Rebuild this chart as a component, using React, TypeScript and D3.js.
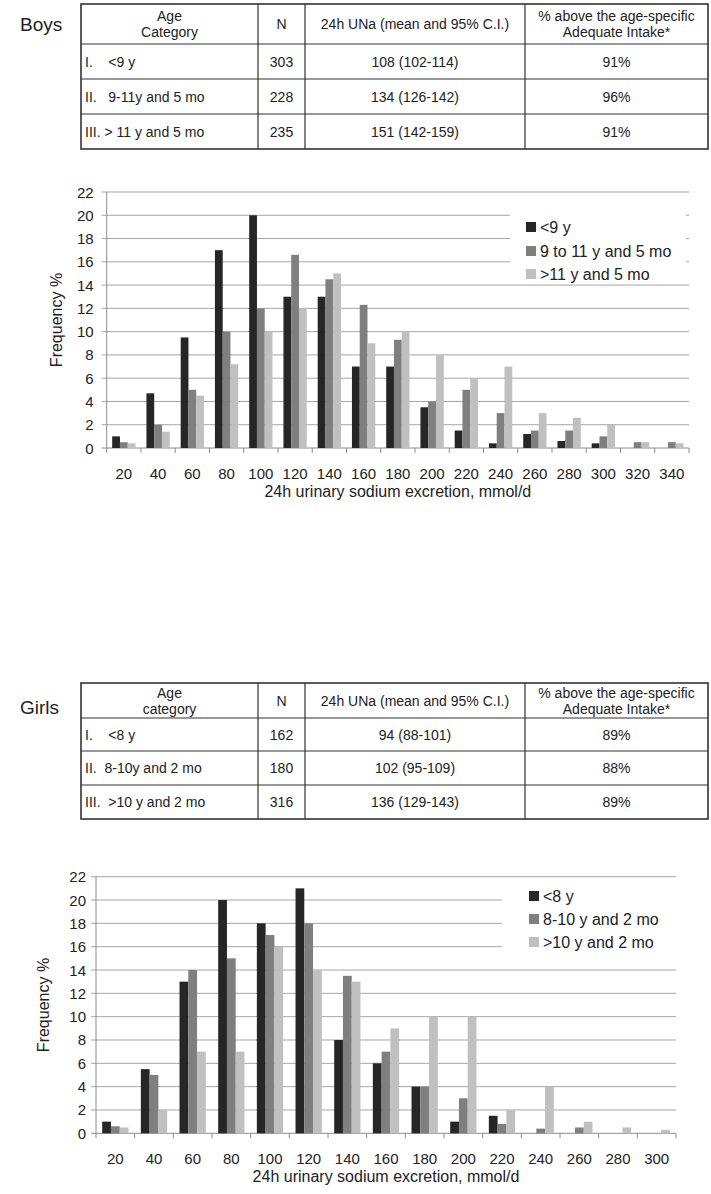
import React from "react";
import * as d3 from "d3";

// ---------- Data ----------
const boysCategories = [20, 40, 60, 80, 100, 120, 140, 160, 180, 200, 220, 240, 260, 280, 300, 320, 340];
const boysUnder9 = [1.0, 4.7, 9.5, 17, 20, 13, 13, 7, 7, 3.5, 1.5, 0.4, 1.2, 0.6, 0.4, 0, 0];
const boys9to11 = [0.5, 2.0, 5.0, 10, 12, 16.6, 14.5, 12.3, 9.3, 4.0, 5.0, 3.0, 1.5, 1.5, 1.0, 0.5, 0.5];
const boysOver11 = [0.4, 1.4, 4.5, 7.2, 10, 12, 15, 9, 10, 8, 6, 7, 3, 2.6, 2, 0.5, 0.4];
const boysSeriesNames = ["<9 y", "9 to 11 y and 5 mo", ">11 y and 5 mo"];

const girlsCategories = [20, 40, 60, 80, 100, 120, 140, 160, 180, 200, 220, 240, 260, 280, 300];
const girlsUnder8 = [1.0, 5.5, 13, 20, 18, 21, 8, 6, 4, 1, 1.5, 0, 0, 0, 0];
const girls8to10 = [0.6, 5, 14, 15, 17, 18, 13.5, 7, 4, 3, 0.8, 0.4, 0.5, 0, 0];
const girlsOver10 = [0.5, 2, 7, 7, 16, 14, 13, 9, 10, 10, 2, 4, 1, 0.5, 0.3];
const girlsSeriesNames = ["<8 y", "8-10 y and 2 mo", ">10 y and 2 mo"];

const yTicks = [0, 2, 4, 6, 8, 10, 12, 14, 16, 18, 20, 22];

const tableHeaders = ["N", "24h UNa (mean and 95% C.I.)"];
const boysAgeHeader = ["Age", "Category"];
const girlsAgeHeader = ["Age", "category"];
const pctHeader = ["% above the age-specific", "Adequate Intake*"];

const boysAgeCats = ["I.    <9 y", "II.   9-11y and 5 mo", "III. > 11 y and 5 mo"];
const boysN = ["303", "228", "235"];
const boysUNa = ["108 (102-114)", "134 (126-142)", "151 (142-159)"];
const boysPct = ["91%", "96%", "91%"];

const girlsAgeCats = ["I.    <8 y", "II.  8-10y and 2 mo", "III.  >10 y and 2 mo"];
const girlsN = ["162", "180", "316"];
const girlsUNa = ["94 (88-101)", "102 (95-109)", "136 (129-143)"];
const girlsPct = ["89%", "88%", "89%"];

const COLORS = ["#262626", "#7f7f7f", "#c0c0c0"];
const FONT = "'Liberation Sans', Arial, Helvetica, sans-serif";

// ---------- Table ----------
function Table(props: {
  top: number; rowLines: number[]; title: string; titleY: number;
  ageHeader: string[]; ages: string[]; n: string[]; una: string[]; pct: string[];
}) {
  const { top, rowLines, title, titleY, ageHeader, ages, n, una, pct } = props;
  const left = 81, right = 708;
  const cols = [left, 258, 305, 525, right];
  const bottom = rowLines[rowLines.length - 1];
  const headerBottom = rowLines[0];
  const fs = 14;
  const rowsTop = [headerBottom, rowLines[1], rowLines[2]];
  const rowsBot = [rowLines[1], rowLines[2], rowLines[3]];
  const cx = (i: number) => (cols[i] + cols[i + 1]) / 2;
  const hMid = (top + headerBottom) / 2;
  return (
    <g fontFamily={FONT} fill="#222">
      <text x={20} y={titleY} fontSize={19} dominantBaseline="central">{title}</text>
      <rect x={left} y={top} width={right - left} height={bottom - top} fill="none" stroke="#333" strokeWidth={1.6} />
      {rowLines.slice(0, 3).map((y, i) => (
        <line key={i} x1={left} x2={right} y1={y} y2={y} stroke="#333" strokeWidth={1.2} />
      ))}
      {cols.slice(1, 4).map((x, i) => (
        <line key={i} x1={x} x2={x} y1={top} y2={bottom} stroke="#333" strokeWidth={1.2} />
      ))}
      <text x={cx(0)} y={hMid - 8} fontSize={fs} textAnchor="middle" dominantBaseline="central">{ageHeader[0]}</text>
      <text x={cx(0)} y={hMid + 8} fontSize={fs} textAnchor="middle" dominantBaseline="central">{ageHeader[1]}</text>
      <text x={cx(1)} y={hMid} fontSize={fs} textAnchor="middle" dominantBaseline="central">{tableHeaders[0]}</text>
      <text x={cx(2)} y={hMid} fontSize={fs} textAnchor="middle" dominantBaseline="central">{tableHeaders[1]}</text>
      <text x={cx(3)} y={hMid - 8} fontSize={fs} textAnchor="middle" dominantBaseline="central">{pctHeader[0]}</text>
      <text x={cx(3)} y={hMid + 8} fontSize={fs} textAnchor="middle" dominantBaseline="central">{pctHeader[1]}</text>
      {ages.map((a, i) => {
        const ym = (rowsTop[i] + rowsBot[i]) / 2;
        return (
          <g key={i}>
            <text x={85} y={ym} fontSize={fs} dominantBaseline="central" style={{ whiteSpace: "pre" }}>{a}</text>
            <text x={cx(1)} y={ym} fontSize={fs} textAnchor="middle" dominantBaseline="central">{n[i]}</text>
            <text x={cx(2)} y={ym} fontSize={fs} textAnchor="middle" dominantBaseline="central">{una[i]}</text>
            <text x={cx(3)} y={ym} fontSize={fs} textAnchor="middle" dominantBaseline="central">{pct[i]}</text>
          </g>
        );
      })}
    </g>
  );
}

// ---------- Bar chart ----------
function BarChart(props: {
  categories: number[]; series: number[][]; names: string[];
  x0: number; x1: number; yZero: number; yTop: number;
  yLabelX: number; tickGap: number;
  legend: { boxX: number; boxY: number; boxW: number; boxH: number; swX: number; txX: number; rowY: number[] };
}) {
  const { categories, series, names, x0, x1, yZero, yTop, yLabelX, tickGap, legend } = props;
  const x = d3.scaleBand<number>().domain(categories).range([x0, x1]).paddingInner(0).paddingOuter(0);
  const y = d3.scaleLinear().domain([0, 22]).range([yZero, yTop]);
  const bw = x.bandwidth();
  const groupW = bw * 0.68;
  const inner = d3.scaleBand<number>().domain([0, 1, 2]).range([0, groupW]).padding(0);
  const boundaries = d3.range(categories.length + 1).map((i) => x0 + i * bw);
  return (
    <g fontFamily={FONT}>
      {yTicks.map((t) => (
        <line key={t} x1={x0 - 5} x2={x1} y1={y(t)} y2={y(t)} stroke={t === 0 ? "#8c8c8c" : "#a6a6a6"} strokeWidth={1} />
      ))}
      <rect x={legend.boxX} y={legend.boxY} width={legend.boxW} height={legend.boxH} fill="#fff" />
      <line x1={x0} x2={x0} y1={yTop} y2={yZero} stroke="#8c8c8c" strokeWidth={1} />
      {boundaries.map((bx, i) => (
        <line key={i} x1={bx} x2={bx} y1={yZero} y2={yZero + 5} stroke="#8c8c8c" strokeWidth={1} />
      ))}
      {series.map((vals, si) =>
        vals.map((v, ci) =>
          v > 0 ? (
            <rect
              key={si + "-" + ci}
              x={(x(categories[ci]) as number) + (bw - groupW) / 2 + (inner(si) as number)}
              y={y(v)}
              width={inner.bandwidth()}
              height={yZero - y(v)}
              fill={COLORS[si]}
            />
          ) : null
        )
      )}
      {yTicks.map((t) => (
        <text key={t} x={x0 - tickGap} y={y(t)} fontSize={15} textAnchor="end" dominantBaseline="central" fill="#222">{t}</text>
      ))}
      {categories.map((c) => (
        <text key={c} x={(x(c) as number) + bw / 2} y={yZero + 25} fontSize={15} textAnchor="middle" dominantBaseline="central" fill="#222">{c}</text>
      ))}
      <text x={(x0 + x1) / 2} y={yZero + 43} fontSize={16} textAnchor="middle" dominantBaseline="central" fill="#222">24h urinary sodium excretion, mmol/d</text>
      <text transform={`translate(${yLabelX},${(yZero + yTop) / 2}) rotate(-90)`} fontSize={16} textAnchor="middle" dominantBaseline="central" fill="#222">Frequency %</text>
      {names.map((nm, i) => (
        <g key={nm}>
          <rect x={legend.swX} y={legend.rowY[i] - 5} width={10} height={10} fill={COLORS[i]} />
          <text x={legend.txX} y={legend.rowY[i]} fontSize={16} dominantBaseline="central" fill="#222">{nm}</text>
        </g>
      ))}
    </g>
  );
}

export default function App() {
  return (
    <svg width={711} height={1194} style={{ position: "absolute", left: 0, top: 0, background: "#fff" }}>
      <rect width={711} height={1194} fill="#fff" />
      <Table top={4} rowLines={[44, 79, 114, 149]} title="Boys" titleY={24}
        ageHeader={boysAgeHeader} ages={boysAgeCats} n={boysN} una={boysUNa} pct={boysPct} />
      <BarChart
        categories={boysCategories}
        series={[boysUnder9, boys9to11, boysOver11]}
        names={boysSeriesNames}
        x0={106.7} x1={689} yZero={448} yTop={192}
        yLabelX={56} tickGap={13}
        legend={{ boxX: 510, boxY: 200, boxW: 176, boxH: 78, swX: 526, txX: 540, rowY: [227, 251, 274] }}
      />
      <Table top={683} rowLines={[718, 751, 785, 819]} title="Girls" titleY={707}
        ageHeader={girlsAgeHeader} ages={girlsAgeCats} n={girlsN} una={girlsUNa} pct={girlsPct} />
      <BarChart
        categories={girlsCategories}
        series={[girlsUnder8, girls8to10, girlsOver10]}
        names={girlsSeriesNames}
        x0={96} x1={676} yZero={1133.3} yTop={876.7}
        yLabelX={43} tickGap={10}
        legend={{ boxX: 502, boxY: 884, boxW: 176, boxH: 76, swX: 529, txX: 543, rowY: [896, 919, 942] }}
      />
    </svg>
  );
}
